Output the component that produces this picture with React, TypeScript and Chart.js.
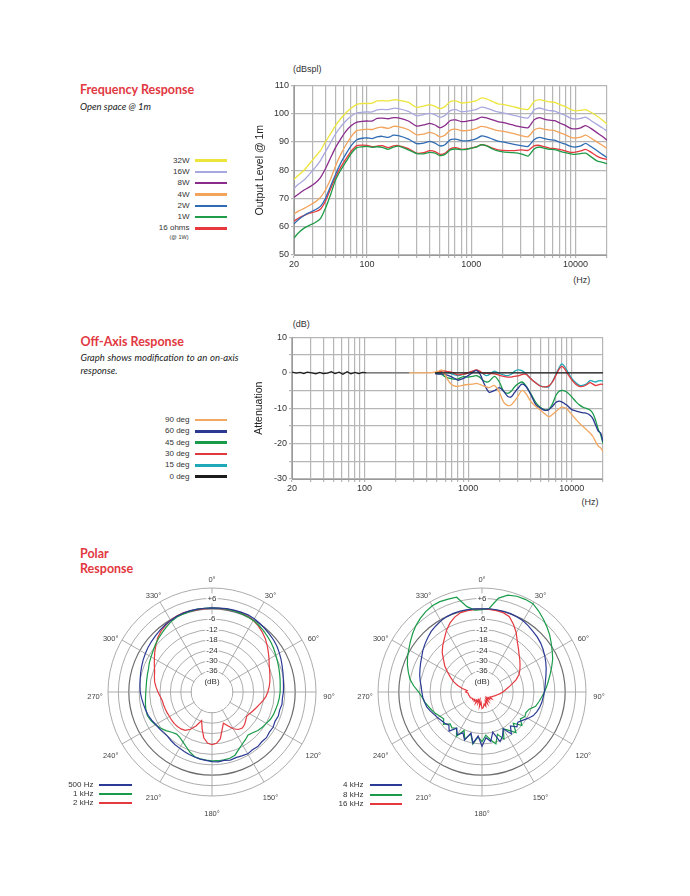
import React, { useEffect, useRef } from 'react';
import { Chart, registerables } from 'chart.js';

Chart.register(...registerables);

const SANS = '"Liberation Sans", Arial, sans-serif';
const HUMAN = 'Lato, "Open Sans", sans-serif';
Chart.defaults.font.family = SANS;

// ---------------- Frequency response ----------------
const FR_HZ = [20, 22, 25, 28, 32, 36, 40, 45, 50, 56, 63, 71, 80, 90, 100, 112, 125, 140, 160, 180, 200, 250, 300, 350, 400, 450, 500, 560, 630, 710, 800, 900, 1000, 1120, 1250, 1400, 1600, 1800, 2000, 2500, 3000, 3500, 4000, 4500, 5000, 5600, 6300, 7100, 8000, 9000, 10000, 11200, 12500, 14000, 16000, 18000, 20000];
const FR_32W = [76.7, 78.2, 80.0, 82.2, 84.8, 87.0, 90.0, 93.0, 95.8, 98.2, 100.3, 102.0, 103.3, 103.6, 103.6, 103.7, 104.5, 104.6, 104.5, 104.9, 104.8, 104.0, 102.2, 102.7, 103.2, 102.6, 101.8, 102.5, 104.3, 104.5, 103.8, 103.9, 104.2, 104.6, 105.6, 105.2, 104.3, 103.5, 103.3, 102.5, 101.8, 101.5, 104.3, 105.0, 104.6, 104.2, 104.0, 103.2, 102.5, 101.4, 101.0, 101.2, 101.4, 100.5, 99.2, 97.8, 96.3];
const FR_16W = [73.5, 75.0, 76.5, 78.5, 81.0, 83.5, 86.5, 89.8, 92.8, 95.3, 97.5, 99.2, 100.3, 100.5, 100.6, 100.6, 101.3, 101.5, 101.4, 101.9, 101.8, 100.8, 99.2, 99.7, 100.1, 99.6, 98.7, 99.4, 101.1, 101.4, 100.7, 100.8, 101.1, 101.5, 102.3, 102.0, 101.2, 100.6, 100.3, 99.5, 98.8, 98.5, 101.3, 102.0, 101.5, 101.1, 100.9, 100.1, 99.4, 98.4, 98.1, 98.3, 98.8, 97.6, 96.2, 95.0, 93.8];
const FR_8W = [70.4, 71.5, 73.0, 74.0, 75.5, 77.5, 80.5, 84.5, 88.0, 91.0, 93.8, 95.8, 97.0, 97.3, 97.4, 97.4, 98.3, 98.4, 98.2, 98.6, 98.5, 97.4, 95.6, 96.0, 96.6, 96.0, 95.0, 95.8, 97.6, 97.8, 97.2, 97.3, 97.6, 98.0, 98.8, 98.5, 97.8, 97.2, 96.9, 96.0, 95.3, 95.0, 97.8, 98.6, 98.1, 97.7, 97.5, 96.6, 95.8, 94.8, 94.6, 95.0, 95.8, 94.8, 93.3, 92.0, 90.6];
const FR_4W = [64.5, 65.5, 66.5, 67.5, 68.8, 70.5, 73.0, 77.0, 81.5, 85.5, 89.0, 92.0, 94.0, 94.3, 94.5, 94.4, 95.0, 95.2, 94.8, 95.5, 95.4, 94.3, 92.5, 92.8, 93.4, 92.8, 91.8, 92.4, 94.2, 94.5, 94.0, 94.0, 94.3, 94.8, 95.5, 95.2, 94.5, 94.0, 93.8, 93.0, 92.2, 91.8, 94.2, 94.9, 94.5, 94.2, 94.0, 93.2, 92.5, 91.6, 91.4, 91.7, 92.4, 91.4, 90.0, 88.8, 87.7];
const FR_2W = [61.0, 62.5, 64.0, 65.0, 66.0, 67.3, 70.0, 74.5, 78.5, 82.5, 85.8, 88.8, 90.8, 91.3, 91.4, 91.2, 91.8, 92.0, 91.6, 92.4, 92.2, 91.0, 89.4, 89.6, 90.2, 89.6, 88.6, 89.0, 90.8, 91.0, 90.5, 90.4, 90.6, 91.2, 92.1, 91.8, 91.0, 90.3, 90.0, 89.2, 88.7, 88.4, 90.8, 91.6, 91.2, 90.8, 90.6, 89.8, 89.2, 88.4, 88.2, 88.6, 89.5, 88.4, 87.0, 85.6, 84.5];
const FR_1W = [56.0, 57.8, 59.5, 60.5, 61.5, 63.0, 66.5, 71.5, 76.5, 80.0, 83.0, 86.0, 88.0, 88.3, 88.4, 88.1, 88.3, 88.1, 87.4, 88.2, 88.5, 87.2, 85.9, 85.8, 86.3, 86.0, 85.2, 85.6, 87.2, 87.5, 87.3, 87.4, 87.8, 88.2, 89.0, 88.6, 87.5, 86.8, 86.5, 86.2, 85.8, 85.0, 87.5, 88.2, 87.8, 87.4, 87.3, 86.7, 86.2, 85.8, 85.6, 85.9, 86.0, 84.8, 83.3, 82.8, 82.3];
const FR_16OHM = [62.0, 63.0, 64.0, 64.8, 65.3, 66.3, 69.0, 73.5, 77.5, 81.0, 84.0, 86.8, 88.7, 88.9, 88.8, 88.3, 88.5, 88.7, 88.0, 88.6, 88.7, 87.6, 86.0, 86.2, 86.9, 86.6, 85.6, 86.0, 87.6, 88.0, 87.4, 87.5, 87.8, 88.3, 89.0, 88.7, 87.8, 87.2, 87.0, 86.9, 87.2, 87.0, 88.6, 88.8, 88.3, 87.8, 87.6, 87.3, 86.8, 86.3, 86.4, 86.8, 87.4, 86.4, 85.0, 84.2, 83.8];
const FR_LABELS = ['32W', '16W', '8W', '4W', '2W', '1W', '16 ohms'];
const FR_COLORS = ['#ede53c', '#a9a8de', '#8a2c8c', '#f2a45c', '#2f6cb4', '#1f9c48', '#e6383d'];
const FR_SERIES = [FR_32W, FR_16W, FR_8W, FR_4W, FR_2W, FR_1W, FR_16OHM];

// ---------------- Off-axis response ----------------
const OA_HZ = [480, 520, 560, 600, 650, 700, 750, 800, 900, 1000, 1100, 1200, 1300, 1400, 1500, 1600, 1800, 2000, 2200, 2400, 2600, 2800, 3000, 3300, 3600, 4000, 4500, 5000, 5500, 6000, 6500, 7000, 7500, 8000, 8500, 9000, 10000, 11000, 12000, 13000, 14000, 15000, 16000, 17000, 18000, 19000, 20000];
const OA_15 = [0, 0.2, 0.3, 0.2, 0.0, -0.3, -0.6, -0.8, -0.4, -0.1, 0.4, 0.7, 0.3, -0.3, -0.8, -0.5, 0.5, -0.2, -0.6, -0.8, -0.4, 0.4, 0.8, 0.6, -0.2, -1.6, -2.8, -3.7, -4.0, -3.9, -2.5, -0.5, 1.3, 2.5, 1.8, 0.6, -1.6, -2.9, -3.6, -3.5, -3.0, -2.2, -2.4, -2.6, -2.3, -2.2, -2.3];
const OA_30 = [0, 0.3, 0.5, 0.5, 0.3, 0.1, -0.3, -0.6, -0.4, 0.0, 0.5, 0.8, 0.4, -0.2, -0.1, -0.2, -0.3, -0.7, -1.0, -1.2, -1.2, -1.0, -0.9, -0.5, -0.4, -1.6, -2.9, -3.8, -4.0, -3.7, -2.6, -0.8, 0.9, 1.8, 1.2, 0.0, -2.0, -3.3, -3.9, -3.8, -3.3, -2.8, -3.2, -3.6, -3.4, -3.2, -3.3];
const OA_45 = [0, -0.2, -0.5, -1.1, -1.5, -1.7, -1.8, -1.7, -1.1, -1.2, -1.0, -0.8, -1.3, -2.2, -2.6, -2.4, -1.0, -2.6, -5.2, -5.8, -5.2, -4.0, -3.2, -2.6, -3.6, -5.8, -8.4, -9.8, -10.5, -10.3, -8.8, -6.5, -5.3, -5.0, -5.1, -5.5, -6.8, -8.2, -9.2, -9.8, -10.1, -10.5, -11.5, -13.5, -16.0, -17.5, -20.0];
const OA_60 = [-0.2, -0.4, -0.3, -0.5, -0.8, -1.2, -1.7, -2.1, -1.6, -0.8, 0.0, 0.7, -0.3, -2.5, -4.4, -5.5, -5.0, -4.2, -5.2, -6.6, -6.8, -5.6, -4.5, -3.2, -3.8, -6.0, -9.0, -10.0, -10.6, -10.4, -9.5, -8.4, -8.0, -8.2, -8.7, -9.2, -10.4, -10.8, -11.1, -11.3, -11.5, -12.0, -13.0, -14.8, -16.5, -17.0, -19.5];
const OA_90_HZ = [270, 330, 400, 480, 520, 560, 600, 650, 700, 750, 800, 900, 1000, 1100, 1200, 1300, 1400, 1500, 1600, 1800, 2000, 2200, 2400, 2600, 2800, 3000, 3300, 3600, 4000, 4500, 5000, 5500, 6000, 6500, 7000, 7500, 8000, 8500, 9000, 10000, 11000, 12000, 13000, 14000, 15000, 16000, 17000, 18000, 19000, 20000];
const OA_90 = [0, 0, 0, 0.2, 0.5, 0.8, -0.6, -2.4, -3.4, -3.8, -3.8, -3.5, -3.3, -3.2, -3.0, -3.3, -3.7, -4.0, -4.2, -3.6, -5.5, -8.3, -9.2, -9.1, -8.0, -6.8, -5.0, -5.8, -8.0, -9.5, -10.6, -11.6, -12.4, -11.8, -11.0, -10.2, -9.7, -9.8, -10.2, -11.8, -13.2, -14.4, -15.3, -16.2, -17.0, -18.0, -19.5, -20.7, -21.2, -22.3];
const OA_0_HZ = [20, 22, 24, 26, 28, 31, 34, 37, 40, 44, 48, 52, 57, 62, 68, 74, 81, 88, 96, 105, 150, 270, 380, 480, 20000];
const OA_0 = [0.2, -0.1, 0.1, -0.2, 0.2, 0.0, -0.3, 0.1, -0.2, -0.1, 0.3, -0.2, 0.2, -0.4, 0.3, -0.3, 0.1, -0.2, 0.1, 0.0, 0.0, 0.0, null, 0, 0];
const OA_LABELS = ['90 deg', '60 deg', '45 deg', '30 deg', '15 deg', '0 deg'];
const OA_COLORS = ['#f2a860', '#2b3990', '#1a9b4a', '#e0393e', '#1fa8b8', '#1c1c1c'];

// ---------------- Axes ----------------
const HZ_GRID = [20, 30, 40, 50, 60, 70, 80, 90, 100, 200, 300, 400, 500, 600, 700, 800, 900, 1000, 2000, 3000, 4000, 5000, 6000, 7000, 8000, 9000, 10000, 20000];
const HZ_TICK_LABELS = [20, 100, 1000, 10000];

// ---------------- Polar response ----------------
const POLAR_DEG = [0, 5, 10, 15, 20, 25, 30, 35, 40, 45, 50, 55, 60, 65, 70, 75, 80, 85, 90, 95, 100, 105, 110, 115, 120, 125, 130, 135, 140, 145, 150, 155, 160, 165, 170, 175, 180, 185, 190, 195, 200, 205, 210, 215, 220, 225, 230, 235, 240, 245, 250, 255, 260, 265, 270, 275, 280, 285, 290, 295, 300, 305, 310, 315, 320, 325, 330, 335, 340, 345, 350, 355];
const POLAR_ANGLE_LABELS = [0, 30, 60, 90, 120, 150, 180, 210, 240, 270, 300, 330];
const P_500 = [0.5, 0.6, 0.8, 0.9, 1.0, 1.1, 0.8, 0.2, -0.4, -1.0, -1.5, -2.2, -3.1, -4.0, -4.9, -5.6, -6.2, -6.6, -6.8, -7.2, -7.0, -7.6, -7.3, -7.9, -7.3, -7.6, -7.0, -7.4, -6.9, -7.3, -6.8, -7.3, -7.7, -7.3, -7.9, -7.5, -7.8, -8.4, -8.7, -9.2, -9.6, -10.1, -10.6, -10.9, -11.3, -11.8, -11.5, -11.0, -10.5, -9.6, -8.8, -8.3, -7.8, -7.2, -6.6, -6.3, -5.9, -5.4, -4.8, -4.2, -3.6, -3.0, -2.5, -2.0, -1.4, -0.8, -0.3, 0.2, 0.5, 0.6, 0.6, 0.5];
const P_1K = [0.5, 0.5, 0.6, 0.5, 0.3, 0.0, -0.3, -1.0, -1.8, -2.7, -3.5, -4.5, -5.5, -6.3, -7.0, -7.6, -8.1, -8.5, -8.7, -9.0, -9.4, -9.9, -10.2, -10.8, -11.8, -12.6, -13.4, -14.8, -15.6, -14.4, -13.2, -11.5, -9.2, -8.4, -8.2, -8.2, -8.3, -8.5, -8.8, -9.3, -11.0, -13.0, -14.6, -15.8, -16.3, -15.2, -13.3, -11.7, -10.3, -9.1, -8.3, -8.5, -9.0, -9.5, -9.8, -9.9, -9.7, -9.4, -9.0, -8.1, -7.4, -6.5, -5.4, -4.3, -3.3, -2.2, -1.0, -0.3, 0.0, 0.3, 0.5, 0.5];
const P_2K = [0.3, 0.4, 0.6, 0.7, 0.7, 0.3, -0.3, -1.5, -2.9, -4.5, -6.4, -8.3, -10.0, -11.6, -12.6, -13.4, -14.1, -14.9, -15.8, -16.8, -18.2, -19.8, -21.0, -22.0, -23.0, -23.6, -22.6, -21.4, -20.8, -21.6, -23.5, -26.5, -28.8, -25.5, -20.5, -18.3, -17.6, -18.4, -21.0, -26.0, -30.5, -26.5, -23.2, -21.0, -20.2, -19.8, -19.6, -19.6, -19.7, -19.5, -19.3, -19.1, -18.9, -18.0, -16.8, -15.6, -14.4, -13.6, -12.8, -11.3, -9.6, -7.7, -5.8, -3.7, -2.2, -1.2, -0.2, 0.3, 0.6, 0.5, 0.3, 0.3];
const P_4K = [0.0, 0.2, 0.2, 0.2, 0.1, -0.2, -0.6, -1.4, -2.3, -3.0, -3.9, -5.0, -6.2, -7.4, -8.6, -9.8, -10.8, -11.5, -12.0, -12.6, -13.0, -13.6, -14.4, -15.5, -17.5, -19.5, -21.0, -19.5, -22.5, -18.5, -23.5, -20.0, -17.5, -24.0, -19.0, -21.5, -16.7, -22.5, -18.0, -23.5, -18.5, -22.0, -19.5, -22.5, -18.5, -21.0, -20.0, -19.4, -18.4, -17.5, -16.2, -15.0, -14.3, -13.7, -13.3, -12.8, -11.8, -10.8, -9.9, -8.9, -7.8, -6.3, -5.0, -3.7, -2.4, -1.5, -0.6, 0.0, 0.3, 0.4, 0.3, 0.2];
const P_8K = [-0.5, 0.5, 7.0, 9.8, 10.8, 11.0, 10.8, 9.0, 7.0, 5.0, 3.0, 0.8, -1.2, -3.0, -5.2, -7.2, -9.0, -10.5, -12.0, -13.5, -14.8, -16.0, -19.0, -20.0, -19.5, -21.0, -18.0, -22.5, -17.5, -21.0, -23.5, -18.0, -22.0, -17.0, -20.0, -23.0, -19.3, -22.0, -17.5, -23.0, -19.0, -23.5, -18.5, -22.5, -21.0, -22.0, -19.0, -21.0, -20.0, -18.5, -17.2, -16.0, -14.5, -13.3, -11.5, -8.5, -5.8, -4.0, -2.2, -0.6, 0.8, 2.5, 4.3, 6.0, 7.4, 8.6, 9.4, 9.5, 9.0, 8.6, 2.0, -0.6];
const P_16K = [-0.3, -0.2, -0.3, -0.6, -1.8, -5.0, -8.5, -12.5, -15.3, -17.7, -19.5, -21.2, -22.8, -24.5, -27.0, -30.0, -32.5, -34.5, -36.0, -37.5, -39.0, -40.0, -41.0, -41.5, -42.5, -41.0, -43.0, -42.0, -44.0, -41.5, -43.5, -40.5, -42.5, -39.5, -41.0, -39.0, -38.4, -42.0, -39.5, -43.5, -41.0, -43.0, -40.5, -42.5, -41.0, -42.0, -41.0, -41.5, -41.0, -40.5, -40.5, -40.2, -40.0, -40.0, -38.5, -39.5, -36.5, -33.5, -30.5, -28.0, -25.0, -21.8, -19.0, -15.5, -12.8, -10.2, -7.0, -4.2, -2.0, -0.6, -0.4, -0.3];
const POLAR_L_LABELS = ['500 Hz', '1 kHz', '2 kHz'];
const POLAR_R_LABELS = ['4 kHz', '8 kHz', '16 kHz'];
const POLAR_COLORS = ['#2b3a94', '#1a9b4a', '#e4393f'];

// ---------------- helpers ----------------
const pts = (xs: number[], ys: (number | null)[]) => xs.map((x, i) => ({ x, y: ys[i] }));
const TICK_FONT = { size: 9, family: SANS };
const GRID_COLOR = '#b6b6b6';

function logLineConfig(datasets: any[], yMin: number, yMax: number, yStep: number, yLabelEvery: number, yTitle: string, yWidth: number, padTop: number, padRight: number) {
  return {
    type: 'line',
    data: { datasets },
    options: {
      animation: false,
      responsive: false,
      layout: { padding: { top: padTop, right: padRight, left: 0, bottom: 0 } },
      plugins: { legend: { display: false }, tooltip: { enabled: false } },
      elements: { point: { radius: 0 } },
      scales: {
        x: {
          type: 'logarithmic',
          min: 20,
          max: 20000,
          afterBuildTicks: (s: any) => { s.ticks = HZ_GRID.map((v) => ({ value: v })); },
          afterFit: (s: any) => { s.height = 20; },
          ticks: {
            autoSkip: false,
            maxRotation: 0,
            padding: 1,
            font: TICK_FONT,
            color: '#333',
            callback: (v: any) => (HZ_TICK_LABELS.includes(Number(v)) ? String(v) : ''),
          },
          grid: { color: GRID_COLOR, lineWidth: 1.2, tickLength: 3 },
          border: { color: '#9a9a9a' },
        },
        y: {
          min: yMin,
          max: yMax,
          afterFit: (s: any) => { s.width = yWidth; },
          ticks: {
            stepSize: yStep,
            padding: 2,
            font: TICK_FONT,
            color: '#333',
            callback: (v: any) => (Number(v) % yLabelEvery === 0 ? String(v) : ''),
          },
          grid: { color: GRID_COLOR, lineWidth: 1.2, tickLength: 3 },
          border: { color: '#9a9a9a' },
          title: { display: true, text: yTitle, color: '#222', font: { size: 10.5, family: SANS }, padding: { top: 4, bottom: 4 } },
        },
      },
    },
  };
}

// blanks the centre disc inside the -36 dB ring, as in the printed polar plot
const innerBlank = {
  id: 'innerBlank',
  beforeDatasetsDraw(chart: any) {
    const s = chart.scales.r;
    const ctx = chart.ctx;
    ctx.save();
    ctx.beginPath();
    ctx.arc(s.xCenter, s.yCenter, s.getDistanceFromCenterForValue(-36) - 0.7, 0, Math.PI * 2);
    ctx.fillStyle = '#ffffff';
    ctx.fill();
    ctx.restore();
  },
};

function polarConfig(series: number[][]) {
  return {
    type: 'radar',
    data: {
      labels: POLAR_DEG.map(String),
      datasets: series.map((d, i) => ({
        data: d,
        borderColor: POLAR_COLORS[i],
        borderWidth: 1.2,
        pointRadius: 0,
        fill: false,
        tension: 0,
      })),
    },
    plugins: [innerBlank],
    options: {
      animation: false,
      responsive: false,
      plugins: { legend: { display: false }, tooltip: { enabled: false } },
      scales: {
        r: {
          min: -48,
          max: 12,
          beginAtZero: false,
          startAngle: 0,
          pointLabels: { display: false },
          angleLines: {
            color: (c: any) => (c.index % 6 === 0 ? '#a3a3a3' : 'rgba(0,0,0,0)'),
            lineWidth: 0.9,
          },
          grid: {
            circular: true,
            color: (c: any) => {
              const v = c.tick ? c.tick.value : 0;
              if (v === 0) return '#6c6c6c';
              if (v < -36) return 'rgba(0,0,0,0)';
              return '#a3a3a3';
            },
            lineWidth: (c: any) => (c.tick && c.tick.value === 0 ? 1.2 : 0.9),
          },
          ticks: {
            z: 1,
            stepSize: 6,
            color: '#333',
            font: { size: 8, family: SANS },
            backdropColor: '#ffffff',
            backdropPadding: 1,
            showLabelBackdrop: (c: any) => !!(c.tick && c.tick.label),
            callback: (v: any) => {
              const n = Number(v);
              if (n === 6) return '+6';
              if (n <= -6 && n >= -36) return String(n);
              if (n === -42) return '(dB)';
              return '';
            },
          },
        },
      },
    },
  };
}

function ChartBox({ left, top, width, height, make }: { left: number; top: number; width: number; height: number; make: () => any }) {
  const ref = useRef<HTMLCanvasElement>(null);
  useEffect(() => {
    const chart = new Chart(ref.current as HTMLCanvasElement, make());
    return () => chart.destroy();
  }, []);
  return <canvas ref={ref} width={width} height={height} style={{ position: 'absolute', left, top, width, height }} />;
}

function Txt({ x, y, children, size = 9, align = 'left', font = SANS, style = {} }: any) {
  const s: any = {
    position: 'absolute',
    top: y,
    fontFamily: font,
    fontSize: size,
    lineHeight: '1',
    color: '#333',
    whiteSpace: 'nowrap',
    transform: 'translateY(-50%)',
    ...style,
  };
  if (align === 'left') s.left = x;
  else if (align === 'right') s.right = 690 - x;
  else { s.left = x; s.transform = 'translate(-50%,-50%)'; }
  return <div style={s}>{children}</div>;
}

function Legend({ labels, colors, textRight, lineX0, lineX1, y0, dy, thick, size }: any) {
  return (
    <>
      {labels.map((l: string, i: number) => (
        <React.Fragment key={l}>
          <Txt x={textRight} y={y0 + i * dy} align="right" size={size}>{l}</Txt>
          <div style={{ position: 'absolute', left: lineX0, top: y0 + i * dy - thick / 2, width: lineX1 - lineX0, height: thick, background: colors[i] }} />
        </React.Fragment>
      ))}
    </>
  );
}

function PolarLabels({ cx, cy }: { cx: number; cy: number }) {
  return (
    <>
      {POLAR_ANGLE_LABELS.map((a) => {
        const r = (a * Math.PI) / 180;
        return (
          <Txt key={a} x={cx + 117 * Math.sin(r)} y={cy - 117 * Math.cos(r)} align="center" size={7.5} style={{ color: '#444' }}>
            {a}°
          </Txt>
        );
      })}
    </>
  );
}

const titleStyle = { color: '#e2383f', fontWeight: 700 };
const subStyle = { fontStyle: 'italic', color: '#222' };

export default function App() {
  const frMake = () =>
    logLineConfig(
      FR_SERIES.map((s, i) => ({ data: pts(FR_HZ, s), borderColor: FR_COLORS[i], borderWidth: 1.3, pointRadius: 0, tension: 0.2, fill: false })),
      50, 110, 10, 10, 'Output Level @ 1m', 44, 7, 8
    );

  const oaMake = () =>
    logLineConfig(
      [
        {
          data: pts(OA_0_HZ, OA_0), borderColor: OA_COLORS[5], borderWidth: 1.3, pointRadius: 0, tension: 0, fill: false, spanGaps: false,
          segment: { borderColor: (c: any) => (c.p0.parsed.x >= 100 && c.p1.parsed.x <= 270 ? '#6e6e6e' : '#1c1c1c') },
        },
        { data: pts(OA_90_HZ, OA_90), borderColor: OA_COLORS[0], borderWidth: 1.3, pointRadius: 0, tension: 0.3, fill: false },
        { data: pts(OA_HZ, OA_60), borderColor: OA_COLORS[1], borderWidth: 1.3, pointRadius: 0, tension: 0.3, fill: false },
        { data: pts(OA_HZ, OA_45), borderColor: OA_COLORS[2], borderWidth: 1.3, pointRadius: 0, tension: 0.3, fill: false },
        { data: pts(OA_HZ, OA_30), borderColor: OA_COLORS[3], borderWidth: 1.3, pointRadius: 0, tension: 0.3, fill: false },
        { data: pts(OA_HZ, OA_15), borderColor: OA_COLORS[4], borderWidth: 1.3, pointRadius: 0, tension: 0.3, fill: false },
      ],
      -30, 10, 5, 10, 'Attenuation', 43, 7, 8
    );

  return (
    <div style={{ position: 'absolute', left: 0, top: 0, width: 690, height: 896, background: '#fff', overflow: 'hidden' }}>
      {/* Frequency response */}
      <Txt x={80} y={90} size={12.5} font={HUMAN} style={titleStyle}>Frequency Response</Txt>
      <Txt x={80} y={106.7} size={9.5} font={HUMAN} style={subStyle}>Open space @ 1m</Txt>
      <Legend labels={FR_LABELS} colors={FR_COLORS} textRight={189.5} lineX0={195} lineX1={227} y0={160.7} dy={11.27} thick={2.5} size={8} />
      <Txt x={179} y={237.5} align="center" size={5.5}>(@ 1W)</Txt>
      <Txt x={293} y={69.3} size={9}>(dBspl)</Txt>
      <Txt x={581.7} y={280} align="center" size={9}>(Hz)</Txt>
      <ChartBox left={250} top={78} width={365} height={197} make={frMake} />

      {/* Off-axis response */}
      <Txt x={80.5} y={341.7} size={12.5} font={HUMAN} style={titleStyle}>Off-Axis Response</Txt>
      <div style={{ position: 'absolute', left: 80.5, top: 350.5, width: 158, fontFamily: HUMAN, fontSize: 9.5, lineHeight: '13.3px', color: '#222', fontStyle: 'italic' }}>
        <div style={{ textAlign: 'justify', textAlignLast: 'justify', whiteSpace: 'nowrap' } as any}>Graph shows modification to an on-axis</div>
        <div>response.</div>
      </div>
      <Legend labels={OA_LABELS} colors={OA_COLORS} textRight={189.5} lineX0={195} lineX1={227} y0={420} dy={11.33} thick={2.5} size={8} />
      <Txt x={292.7} y={324} size={9}>(dB)</Txt>
      <Txt x={590} y={501.7} align="center" size={9}>(Hz)</Txt>
      <ChartBox left={249} top={330} width={362} height={169} make={oaMake} />

      {/* Polar response */}
      <Txt x={80} y={554} size={12.5} font={HUMAN} style={titleStyle}>Polar</Txt>
      <Txt x={80} y={569.3} size={12.5} font={HUMAN} style={titleStyle}>Response</Txt>
      <ChartBox left={103} top={572} width={218} height={240} make={() => polarConfig([P_500, P_1K, P_2K])} />
      <PolarLabels cx={212} cy={697} />
      <ChartBox left={373} top={572} width={218} height={240} make={() => polarConfig([P_4K, P_8K, P_16K])} />
      <PolarLabels cx={482} cy={697} />
      <Legend labels={POLAR_L_LABELS} colors={POLAR_COLORS} textRight={93.5} lineX0={99.3} lineX1={131.7} y0={785} dy={9.1} thick={2} size={8} />
      <Legend labels={POLAR_R_LABELS} colors={POLAR_COLORS} textRight={363.5} lineX0={370} lineX1={401.7} y0={785} dy={9.5} thick={2} size={8} />
    </div>
  );
}
